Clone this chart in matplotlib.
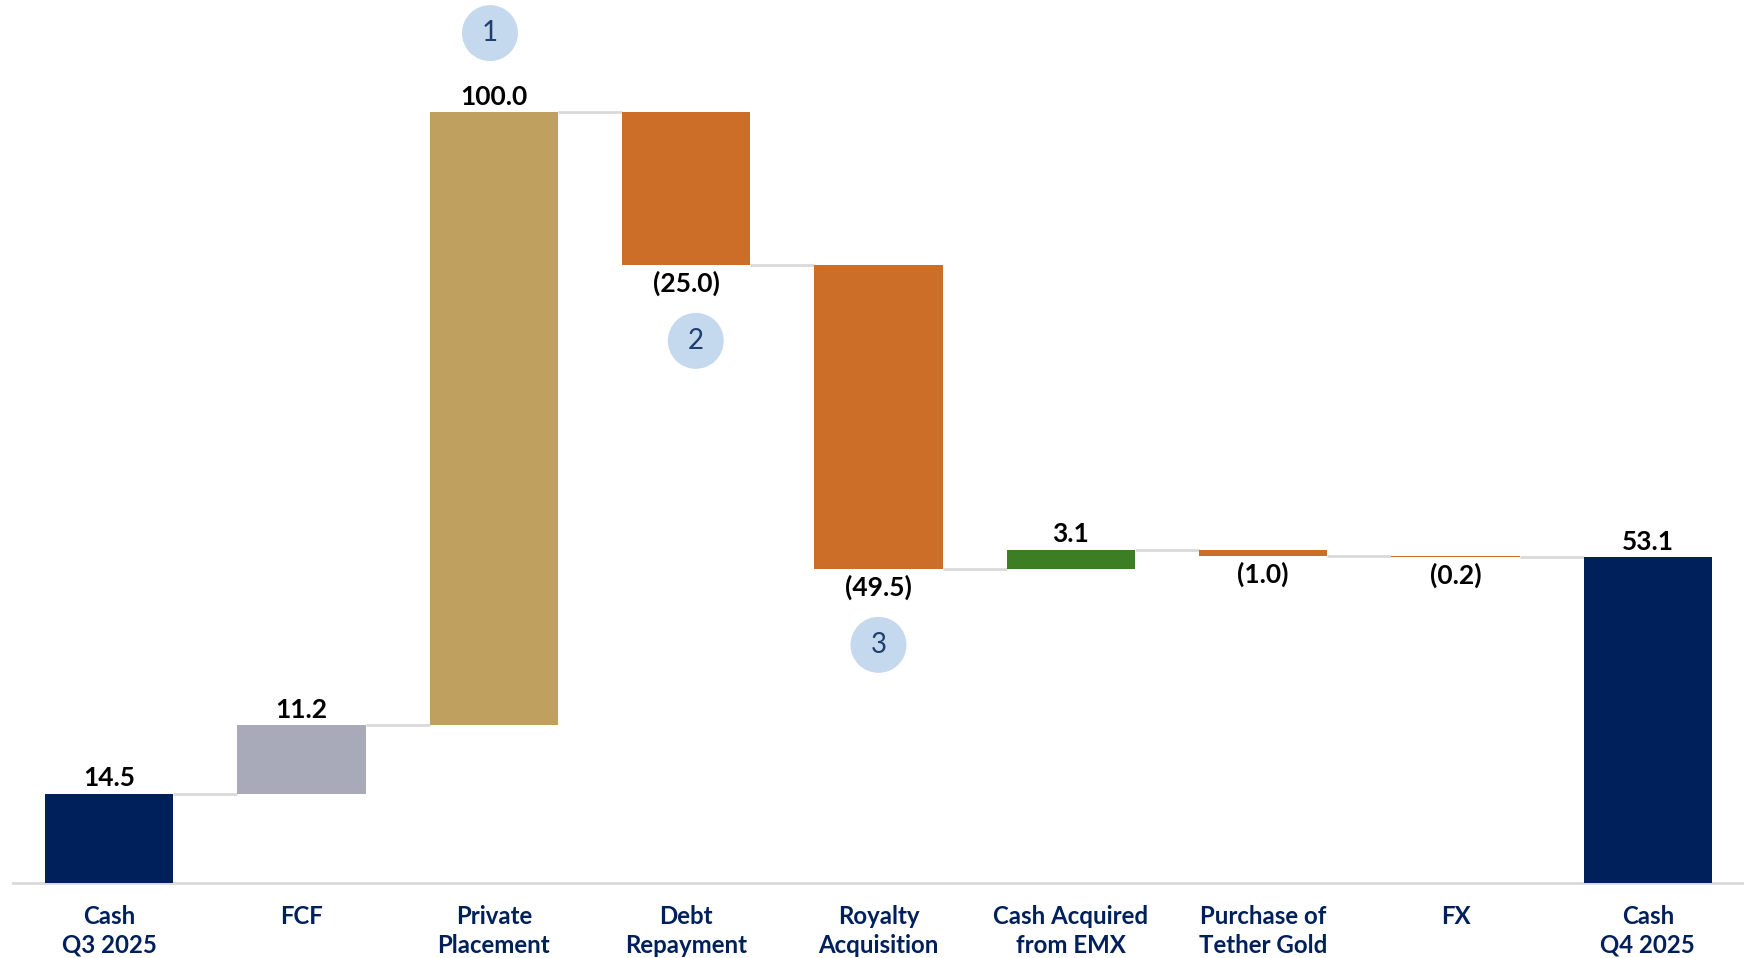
import matplotlib
matplotlib.use("Agg")
import matplotlib.pyplot as plt
import numpy as np

# ---- data ----
categories = ["Cash\nQ3 2025", "FCF", "Private\nPlacement", "Debt\nRepayment",
              "Royalty\nAcquisition", "Cash Acquired\nfrom EMX", "Purchase of\nTether Gold",
              "FX", "Cash\nQ4 2025"]
values = [14.5, 11.2, 100.0, -25.0, -49.5, 3.1, -1.0, -0.2, 53.1]
is_total = [True, False, False, False, False, False, False, False, True]
value_labels = ["14.5", "11.2", "100.0", "(25.0)", "(49.5)", "3.1", "(1.0)", "(0.2)", "53.1"]
bar_colors = ["#00205B", "#A9AAB9", "#BFA05F", "#CC6E28", "#CC6E28",
              "#3D7E25", "#CC6E28", "#CC6E28", "#00205B"]

# numbered callouts: (label, x index, y value)
callout_labels = ["1", "2", "3"]
callout_x = [1.98, 3.05, 4.0]
callout_y = [138.6, 88.4, 38.8]

NAVY = "#00205B"
GRID = "#D9D9D9"

plt.rcParams['font.family'] = ['Lato', 'DejaVu Sans']

fig = plt.figure(figsize=(17.44, 9.58), dpi=100)
W, H = 1744, 958
ax = fig.add_axes([13 / W, (H - 882.7) / H, 1731 / W, 882.7 / H])

x = np.arange(len(categories))
bottoms = []
heights = []
running = 0.0
for v, tot in zip(values, is_total):
    if tot:
        bottoms.append(0.0)
        heights.append(v)
        running = v
    else:
        if v >= 0:
            bottoms.append(running)
            heights.append(v)
        else:
            bottoms.append(running + v)
            heights.append(-v)
        running += v

width = 0.667
ax.bar(x, heights, bottom=bottoms, width=width, color=bar_colors, zorder=3)

# connectors
levels = []
running = 0.0
for v, tot in zip(values, is_total):
    running = v if tot else running + v
    levels.append(running)
for i in range(len(x) - 1):
    ax.plot([x[i] + width / 2, x[i + 1] - width / 2], [levels[i], levels[i]],
            color=GRID, lw=2, zorder=2, solid_capstyle='butt')

# value labels
for i, (v, lab) in enumerate(zip(values, value_labels)):
    top = bottoms[i] + heights[i]
    if v >= 0:
        ax.annotate(lab, (x[i], top), xytext=(0, 2.5), textcoords='offset points',
                    ha='center', va='bottom', fontsize=19, fontweight='bold', color='black')
    else:
        ax.annotate(lab, (x[i], bottoms[i]), xytext=(0, -4), textcoords='offset points',
                    ha='center', va='top', fontsize=19, fontweight='bold', color='black')

# callouts
ax.scatter(callout_x, callout_y, s=1625, color="#C5D9EE", zorder=4, edgecolors='none')
for lab, cx, cy in zip(callout_labels, callout_x, callout_y):
    ax.text(cx, cy, lab, ha='center', va='center', fontsize=20, color="#1F3F6E", zorder=5)

ax.set_xlim(-0.5, len(x) - 0.5)
ax.set_ylim(0, 144)
ax.set_xticks(x)
ax.set_xticklabels(categories, fontsize=17.3, fontweight='bold', color=NAVY, linespacing=1.3)
ax.tick_params(axis='x', length=0, pad=16)
ax.set_yticks([])
for s in ['top', 'right', 'left']:
    ax.spines[s].set_visible(False)
ax.spines['bottom'].set_color(GRID)
ax.spines['bottom'].set_linewidth(2)
ax.set_facecolor('white')
fig.patch.set_facecolor('white')

fig.savefig("out.png", dpi=100, facecolor='white')
